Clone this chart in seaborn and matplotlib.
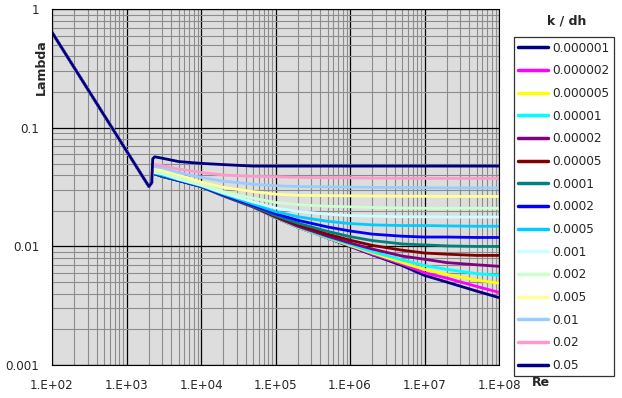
import numpy as np
import pandas as pd
import matplotlib
matplotlib.use("Agg")
import matplotlib.pyplot as plt
import seaborn as sns
from matplotlib.ticker import LogLocator, NullFormatter


# laminar branch (shared by every curve)
LAM_RE = [100, 200, 500, 1000, 2000, 2180]
LAM_LAMBDA = [0.64, 0.32, 0.128, 0.064, 0.032, 0.0345]

# turbulent branch
TURB_RE = [2250, 2400, 3000, 5000, 1e4, 2e4, 5e4, 1e5, 2e5, 5e5,
           1e6, 2e6, 5e6, 1e7, 2e7, 5e7, 1e8]

K_LABELS = ["0.000001", "0.000002", "0.000005", "0.00001", "0.00002",
            "0.00005", "0.0001", "0.0002", "0.0005", "0.001", "0.002",
            "0.005", "0.01", "0.02", "0.05"]

LAMBDA_000001 = [0.041, 0.041, 0.039, 0.036, 0.0320, 0.0267, 0.0215, 0.0175, 0.0145, 0.0118, 0.0100, 0.0085, 0.0069, 0.0057, 0.0050, 0.0042, 0.0037]
LAMBDA_000002 = [0.041, 0.041, 0.039, 0.036, 0.0320, 0.0267, 0.0215, 0.0175, 0.0145, 0.0118, 0.0101, 0.0086, 0.0071, 0.0060, 0.0054, 0.0046, 0.0041]
LAMBDA_000005 = [0.041, 0.041, 0.039, 0.036, 0.0320, 0.0267, 0.0215, 0.0175, 0.0145, 0.0118, 0.0102, 0.0088, 0.0073, 0.0064, 0.0058, 0.0052, 0.0049]
LAMBDA_00001 = [0.041, 0.041, 0.039, 0.036, 0.0320, 0.0267, 0.0215, 0.0176, 0.0146, 0.0119, 0.0104, 0.0090, 0.0077, 0.0069, 0.0064, 0.0059, 0.0057]
LAMBDA_00002 = [0.041, 0.041, 0.039, 0.036, 0.0320, 0.0268, 0.0216, 0.0177, 0.0148, 0.0122, 0.0107, 0.0095, 0.0083, 0.0078, 0.0073, 0.0070, 0.0068]
LAMBDA_00005 = [0.041, 0.041, 0.039, 0.036, 0.0321, 0.0269, 0.0217, 0.0179, 0.0152, 0.0127, 0.0113, 0.0102, 0.0093, 0.0088, 0.0086, 0.0084, 0.0084]
LAMBDA_0001 = [0.041, 0.041, 0.039, 0.036, 0.0321, 0.0270, 0.0219, 0.0182, 0.0157, 0.0134, 0.0121, 0.0112, 0.0105, 0.0103, 0.0101, 0.0100, 0.0100]
LAMBDA_0002 = [0.041, 0.041, 0.0395, 0.036, 0.0322, 0.0272, 0.0222, 0.0189, 0.0166, 0.0146, 0.0135, 0.0127, 0.0122, 0.0120, 0.0120, 0.0119, 0.0119]
LAMBDA_0005 = [0.0415, 0.0415, 0.040, 0.0365, 0.0325, 0.0277, 0.0228, 0.0197, 0.0178, 0.0163, 0.0156, 0.0152, 0.0150, 0.0150, 0.0149, 0.0148, 0.0148]
LAMBDA_001 = [0.042, 0.042, 0.041, 0.037, 0.0328, 0.0282, 0.0237, 0.0211, 0.0197, 0.0187, 0.0182, 0.0180, 0.0178, 0.0178, 0.0177, 0.0177, 0.0177]
LAMBDA_002 = [0.043, 0.043, 0.042, 0.038, 0.0334, 0.0290, 0.0255, 0.0235, 0.0225, 0.0218, 0.0216, 0.0213, 0.0211, 0.0210, 0.0210, 0.0210, 0.0210]
LAMBDA_005 = [0.045, 0.045, 0.044, 0.040, 0.0349, 0.0315, 0.0290, 0.0276, 0.0270, 0.0268, 0.0267, 0.0266, 0.0265, 0.0265, 0.0264, 0.0264, 0.0264]
LAMBDA_01 = [0.047, 0.047, 0.046, 0.042, 0.0382, 0.0355, 0.0335, 0.0325, 0.0320, 0.0318, 0.0317, 0.0315, 0.0314, 0.0313, 0.0312, 0.0312, 0.0312]
LAMBDA_02 = [0.049, 0.049, 0.048, 0.045, 0.0421, 0.0400, 0.0390, 0.0387, 0.0382, 0.0380, 0.0379, 0.0377, 0.0376, 0.0375, 0.0375, 0.0375, 0.0375]
LAMBDA_05 = [0.055, 0.057, 0.0555, 0.052, 0.0502, 0.0490, 0.0476, 0.0476, 0.0476, 0.0476, 0.0476, 0.0476, 0.0476, 0.0476, 0.0476, 0.0476, 0.0476]

SERIES = [LAMBDA_000001, LAMBDA_000002, LAMBDA_000005, LAMBDA_00001,
          LAMBDA_00002, LAMBDA_00005, LAMBDA_0001, LAMBDA_0002, LAMBDA_0005,
          LAMBDA_001, LAMBDA_002, LAMBDA_005, LAMBDA_01, LAMBDA_02, LAMBDA_05]

COLORS = ["#000080", "#FF00FF", "#FFFF00", "#00FFFF", "#800080", "#800000",
          "#008080", "#0000FF", "#00CCFF", "#CCFFFF", "#CCFFCC", "#FFFF99",
          "#99CCFF", "#FF99CC", "#000080"]

X_TICKS = [1e2, 1e3, 1e4, 1e5, 1e6, 1e7, 1e8]
X_TICK_LABELS = ["1.E+02", "1.E+03", "1.E+04", "1.E+05", "1.E+06", "1.E+07", "1.E+08"]
Y_TICKS = [0.001, 0.01, 0.1, 1]
Y_TICK_LABELS = ["0.001", "0.01", "0.1", "1"]


def build_frame():
    rows = []
    for label, values in zip(K_LABELS, SERIES):
        re_all = LAM_RE + TURB_RE
        lam_all = LAM_LAMBDA + values
        for i, (re, lam) in enumerate(zip(re_all, lam_all)):
            rows.append({"k / dh": label, "Re": re, "Lambda": lam, "order": i})
    return pd.DataFrame(rows)


def main():
    sns.set_style("white")
    plt.rcParams["font.family"] = ["DejaVu Sans"]

    df = build_frame()

    fig = plt.figure(figsize=(6.22, 3.98), dpi=100)
    ax = fig.add_axes([52 / 622, 1 - 365 / 398, 447 / 622, 355.7 / 398])
    ax.set_facecolor("#DDDDDD")

    sns.lineplot(
        data=df,
        x="Re",
        y="Lambda",
        hue="k / dh",
        hue_order=K_LABELS,
        palette=dict(zip(K_LABELS, COLORS)),
        units="k / dh",
        estimator=None,
        sort=False,
        linewidth=2,
        ax=ax,
    )

    ax.set_xscale("log")
    ax.set_yscale("log")
    ax.set_xlim(1e2, 1e8)
    ax.set_ylim(1e-3, 1)

    ax.set_xticks(X_TICKS)
    ax.set_xticklabels(X_TICK_LABELS)
    ax.set_yticks(Y_TICKS)
    ax.set_yticklabels(Y_TICK_LABELS)
    ax.xaxis.set_minor_locator(LogLocator(base=10, subs=np.arange(2, 10)))
    ax.yaxis.set_minor_locator(LogLocator(base=10, subs=np.arange(2, 10)))
    ax.xaxis.set_minor_formatter(NullFormatter())
    ax.yaxis.set_minor_formatter(NullFormatter())

    ax.set_axisbelow(True)
    ax.grid(which="minor", color="#8C8C8C", linewidth=0.8)
    ax.grid(which="major", color="black", linewidth=0.9)

    ax.tick_params(axis="both", which="major", direction="out", length=4,
                   width=0.8, color="black", labelsize=8.6)
    ax.tick_params(axis="x", which="major", pad=6)
    ax.tick_params(axis="y", which="major", pad=5)
    ax.tick_params(axis="both", which="minor", length=0)
    for spine in ax.spines.values():
        spine.set_color("black")
        spine.set_linewidth(0.8)

    ax.set_xlabel("")
    ax.set_ylabel("")
    fig.text(41.5 / 622, 1 - 67 / 398, "Lambda", rotation=90, fontsize=9,
             fontweight="bold", ha="center", va="center")
    fig.text(541 / 622, 1 - 383 / 398, "Re", fontsize=9, fontweight="bold",
             ha="center", va="center")
    fig.text(567 / 622, 1 - 21.5 / 398, "k / dh", fontsize=9,
             fontweight="bold", ha="center", va="center")

    handles, labels = ax.get_legend_handles_labels()
    ax.get_legend().remove()
    leg = fig.legend(
        handles,
        labels,
        loc="upper left",
        bbox_to_anchor=(514 / 622, 1 - 37.3 / 398),
        frameon=True,
        fancybox=False,
        edgecolor="black",
        fontsize=8.7,
        labelspacing=0.8,
        handlelength=2.5,
        handletextpad=0.3,
        borderpad=0.35,
        borderaxespad=0,
    )
    leg.get_frame().set_linewidth(0.9)
    for line in leg.get_lines():
        line.set_linewidth(2.5)

    fig.savefig("out.png", dpi=100)
    plt.close(fig)


if __name__ == "__main__":
    main()
